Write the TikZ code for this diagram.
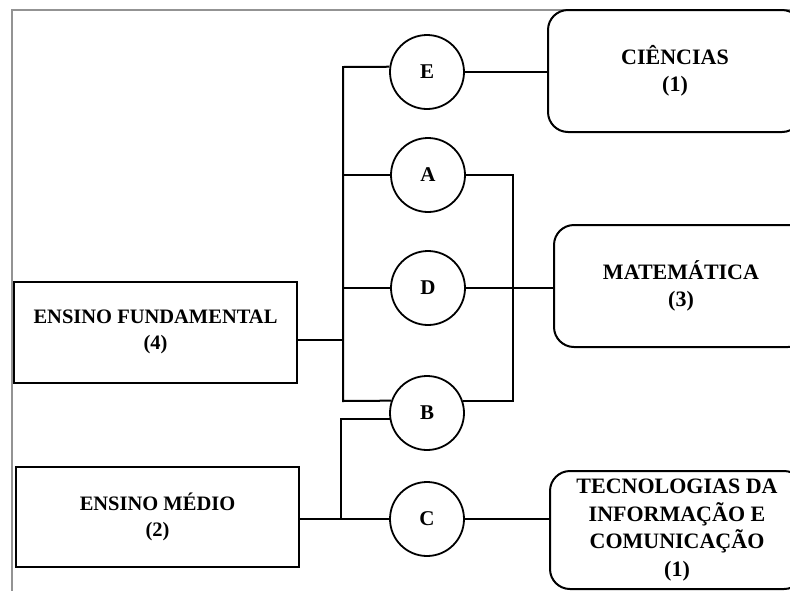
\documentclass[tikz,border=0pt]{standalone}
\usepackage{fontspec}
\setmainfont{Liberation Serif}
\usepackage{tikz}
\usetikzlibrary{positioning,calc}

\begin{document}
\begin{tikzpicture}[x=1pt,y=-1pt,
  levelbox/.style={draw, line width=2pt, minimum width=283pt, minimum height=101pt, align=center, font=\fontsize{20.5}{26}\selectfont\bfseries},
  areabox/.style={draw, line width=2pt, rounded corners=20pt, minimum width=254pt, align=center, font=\fontsize{22}{27.5}\selectfont\bfseries},
  linkcircle/.style={draw, circle, line width=1.8pt, minimum size=74pt, inner sep=0pt, font=\fontsize{21}{24}\selectfont\bfseries},
  link/.style={line width=2pt}]
\useasboundingbox (0,0) rectangle (790,590);
\clip (0,0) rectangle (790,590);
\draw[gray!85, line width=1.3pt] (800,10) -- (12,10) -- (12,600);

\node[levelbox] (fund) at (155.5,332) {ENSINO FUNDAMENTAL\\(4)};
\node[levelbox, minimum height=100pt] (medio) at (157.5,517) {ENSINO MÉDIO\\(2)};

\node[linkcircle] (E) at (427,72) {E};
\node[linkcircle] (A) at (428,175) {A};
\node[linkcircle] (D) at (428,288) {D};
\node[linkcircle] (B) at (427,413) {B};
\node[linkcircle] (C) at (427,519) {C};

\node[areabox, minimum height=122pt] (cien) at (675,71) {CIÊNCIAS\\(1)};
\node[areabox, minimum height=122pt] (mat) at (681,286) {MATEMÁTICA\\(3)};
\node[areabox, minimum height=118pt] (tic) at (677,530) {TECNOLOGIAS DA\\INFORMAÇÃO E\\COMUNICAÇÃO\\(1)};

\coordinate (ltop) at (343,67);
\coordinate (lbot) at (343,401);
\coordinate (lfund) at (343,340);
\coordinate (rtrunk) at (513,175);
\coordinate (lmedio) at (341,519);

\draw[link] (fund.east |- lfund) -- (lfund);
\draw[link] (E.172) -- (ltop) -- (lbot) -- (B.161);
\draw[link] (A.west -| ltop) -- (A.west);
\draw[link] (D.west -| ltop) -- (D.west);

\draw[link] (E.east) -- (E.east -| cien.west);
\draw[link] (A.east) -- (A.east -| rtrunk) -- (B.19 -| rtrunk) -- (B.19);
\draw[link] (D.east) -- (D.east -| mat.west);

\draw[link] (medio.east |- C) -- (C.west);
\draw[link] (lmedio) |- (B.189);
\draw[link] (C.east) -- (C.east -| tic.west);
\end{tikzpicture}
\end{document}
